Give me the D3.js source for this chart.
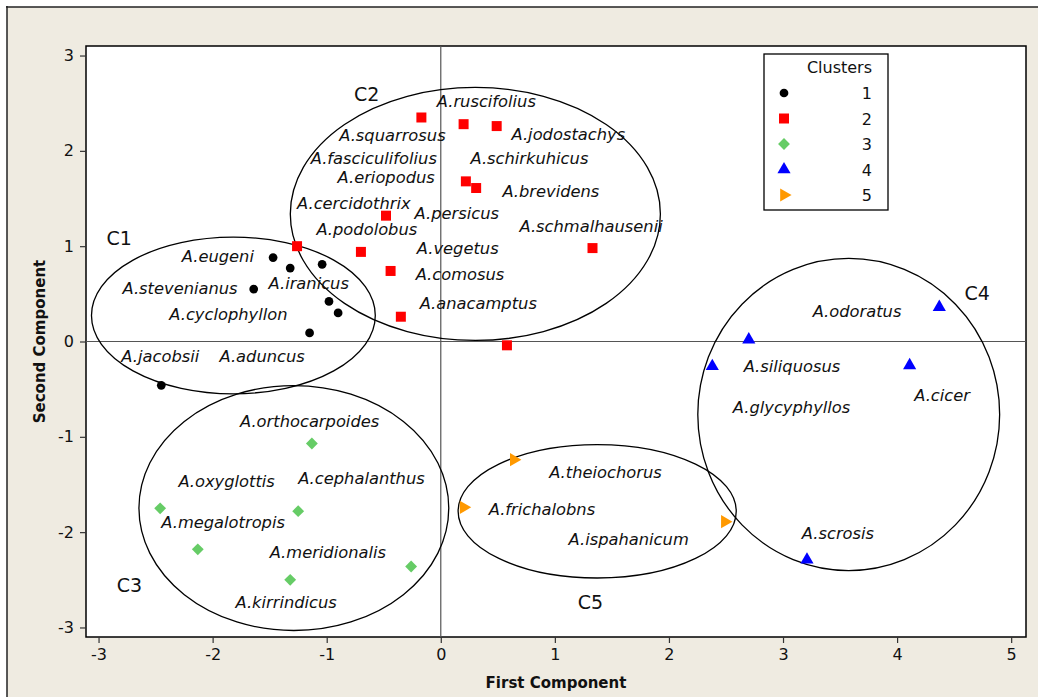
<!DOCTYPE html>
<html>
<head>
<meta charset="utf-8">
<script src="https://cdn.jsdelivr.net/npm/d3@7/dist/d3.min.js"></script>
<style>
  html, body { margin: 0; padding: 0; background: #ffffff; }
  svg { display: block; }
</style>
</head>
<body>
<svg id="chart" width="1038" height="697"></svg>
<script>
// Cluster scores on the first two principal components
const clusterIds = [1, 2, 3, 4, 5];
const clusterColors = ["#000000", "#ff0000", "#66cc66", "#0000ff", "#ff9900"];

const cluster1Points = [
  [-1.47, 0.88], [-1.32, 0.77], [-1.04, 0.81], [-1.64, 0.55],
  [-0.98, 0.42], [-0.90, 0.30], [-1.15, 0.09], [-2.45, -0.46]
];
const cluster2Points = [
  [-0.17, 2.35], [0.20, 2.28], [0.49, 2.26], [0.22, 1.68], [0.31, 1.61],
  [-0.48, 1.32], [-1.26, 1.00], [-0.70, 0.94], [-0.44, 0.74], [-0.35, 0.26],
  [1.33, 0.98], [0.58, -0.04]
];
const cluster3Points = [
  [-1.13, -1.07], [-2.46, -1.75], [-1.25, -1.78], [-2.13, -2.18],
  [-0.26, -2.36], [-1.32, -2.50]
];
const cluster4Points = [
  [4.37, 0.36], [2.70, 0.02], [2.38, -0.26], [4.11, -0.25], [3.21, -2.29]
];
const cluster5Points = [
  [0.64, -1.24], [0.20, -1.74], [2.49, -1.89]
];

// Species names: [name, x, y] (left edge / baseline in component units)
const speciesLabels = [
  ["A.eugeni", -2.27, 0.83], ["A.stevenianus", -2.79, 0.50], ["A.iranicus", -1.51, 0.55],
  ["A.cyclophyllon", -2.38, 0.23], ["A.jacobsii", -2.80, -0.21], ["A.aduncus", -1.94, -0.21],
  ["A.ruscifolius", -0.035, 2.46], ["A.squarrosus", -0.89, 2.10], ["A.jodostachys", 0.62, 2.11],
  ["A.fasciculifolius", -1.14, 1.86], ["A.schirkuhicus", 0.26, 1.86], ["A.eriopodus", -0.905, 1.66],
  ["A.brevidens", 0.54, 1.52], ["A.cercidothrix", -1.26, 1.385], ["A.persicus", -0.23, 1.28],
  ["A.schmalhausenii", 0.69, 1.15], ["A.podolobus", -1.09, 1.12], ["A.vegetus", -0.21, 0.92],
  ["A.comosus", -0.22, 0.65], ["A.anacamptus", -0.185, 0.34],
  ["A.orthocarpoides", -1.76, -0.90], ["A.oxyglottis", -2.30, -1.53], ["A.cephalanthus", -1.25, -1.49],
  ["A.megalotropis", -2.45, -1.96], ["A.meridionalis", -1.50, -2.27], ["A.kirrindicus", -1.80, -2.80],
  ["A.theiochorus", 0.95, -1.43], ["A.frichalobns", 0.42, -1.815], ["A.ispahanicum", 1.12, -2.13],
  ["A.odoratus", 3.26, 0.255], ["A.siliquosus", 2.655, -0.325], ["A.cicer", 4.15, -0.62],
  ["A.glycyphyllos", 2.56, -0.75], ["A.scrosis", 3.165, -2.075]
];

// Cluster outlines: [cx, cy, rx, ry] in component units
const clusterEllipses = [
  [-1.818, 0.273, 1.244, 0.822],
  [0.303, 1.338, 1.622, 1.327],
  [-1.288, -1.747, 1.358, 1.285],
  [3.576, -0.766, 1.323, 1.637],
  [1.371, -1.781, 1.219, 0.700]
];
const clusterNames = [
  ["C1", -2.93, 1.01], ["C2", -0.76, 2.52], ["C3", -2.84, -2.63],
  ["C4", 4.59, 0.44], ["C5", 1.20, -2.81]
];

const xTicks = [-3, -2, -1, 0, 1, 2, 3, 4, 5];
const yTicks = [-3, -2, -1, 0, 1, 2, 3];

const svg = d3.select("#chart");
const W = 1038, H = 697;
const plot = { left: 86, top: 46, right: 1026, bottom: 637 };

// page background and outer frame
svg.append("rect").attr("x", 7).attr("y", 7).attr("width", W - 7).attr("height", H - 7)
  .attr("fill", "#efebe1");
svg.append("line").attr("x1", 6).attr("x2", W).attr("y1", 7).attr("y2", 7)
  .attr("stroke", "#222").attr("stroke-width", 1.5);
svg.append("line").attr("x1", 7).attr("x2", 7).attr("y1", 6).attr("y2", H)
  .attr("stroke", "#222").attr("stroke-width", 1.5);

const x = d3.scaleLinear().domain([-3.11, 5.13]).range([plot.left, plot.right]);
const y = d3.scaleLinear().domain([-3.1, 3.1]).range([plot.bottom, plot.top]);

// plot area
svg.append("rect")
  .attr("x", plot.left).attr("y", plot.top)
  .attr("width", plot.right - plot.left).attr("height", plot.bottom - plot.top)
  .attr("fill", "#ffffff").attr("stroke", "#000").attr("stroke-width", 1.5);

const tickFont = "'DejaVu Sans', Verdana, sans-serif";
const plainInt = d => String(d);  // hyphen-minus, as in the original axis labels

// axes
const xAxis = d3.axisBottom(x).tickValues(xTicks).tickSize(6).tickPadding(6)
  .tickFormat(plainInt);
const gx = svg.append("g").attr("transform", `translate(0,${plot.bottom})`).call(xAxis);
gx.select(".domain").remove();
gx.selectAll("text").attr("font-family", tickFont).attr("font-size", 16).attr("fill", "#111");
gx.selectAll("line").attr("stroke", "#333").attr("stroke-width", 1.2);

const yAxis = d3.axisLeft(y).tickValues(yTicks).tickSize(6).tickPadding(6)
  .tickFormat(plainInt);
const gy = svg.append("g").attr("transform", `translate(${plot.left},0)`).call(yAxis);
gy.select(".domain").remove();
gy.selectAll("text").attr("font-family", tickFont).attr("font-size", 16).attr("fill", "#111");
gy.selectAll("line").attr("stroke", "#333").attr("stroke-width", 1.2);

// axis titles
svg.append("text").attr("x", (x(-3.11) + x(5.13)) / 2).attr("y", 688)
  .attr("text-anchor", "middle").attr("font-family", tickFont).attr("font-weight", "bold")
  .attr("font-size", 15).attr("fill", "#111").text("First Component");
svg.append("text")
  .attr("transform", `translate(45,${y(0)}) rotate(-90)`)
  .attr("text-anchor", "middle").attr("font-family", tickFont).attr("font-weight", "bold")
  .attr("font-size", 15).attr("fill", "#111").text("Second Component");

// reference lines through the origin
svg.append("line").attr("x1", x(0)).attr("x2", x(0)).attr("y1", plot.top).attr("y2", plot.bottom)
  .attr("stroke", "#555").attr("stroke-width", 1.2);
svg.append("line").attr("x1", plot.left).attr("x2", plot.right).attr("y1", y(0)).attr("y2", y(0))
  .attr("stroke", "#555").attr("stroke-width", 1.2);

// cluster ellipses
const kx = x(1) - x(0), ky = y(0) - y(1);
svg.append("g").selectAll("ellipse").data(clusterEllipses).join("ellipse")
  .attr("cx", d => x(d[0])).attr("cy", d => y(d[1]))
  .attr("rx", d => d[2] * kx).attr("ry", d => d[3] * ky)
  .attr("fill", "none").attr("stroke", "#000").attr("stroke-width", 1.3);

// marker shapes: circle, square, diamond (rotated square), triangle up, triangle right
const symbolPaths = [
  d3.symbol().type(d3.symbolCircle).size(60)(),
  d3.symbol().type(d3.symbolSquare).size(100)(),
  d3.symbol().type(d3.symbolSquare).size(70)(),
  d3.symbol().type(d3.symbolTriangle).size(75)(),
  d3.symbol().type(d3.symbolTriangle).size(75)()
];
const symbolRotate = [0, 0, 45, 0, 90];

const allClusters = [cluster1Points, cluster2Points, cluster3Points, cluster4Points, cluster5Points];
allClusters.forEach((pts, i) => {
  svg.append("g").selectAll("path").data(pts).join("path")
    .attr("d", symbolPaths[i])
    .attr("transform", d => `translate(${x(d[0])},${y(d[1])}) rotate(${symbolRotate[i]})`)
    .attr("fill", clusterColors[i]);
});

// species labels
svg.append("g").selectAll("text").data(speciesLabels).join("text")
  .attr("x", d => x(d[1])).attr("y", d => y(d[2]))
  .attr("font-family", tickFont).attr("font-style", "italic").attr("font-size", 16.3)
  .attr("fill", "#111").text(d => d[0]);

// cluster names
svg.append("g").selectAll("text").data(clusterNames).join("text")
  .attr("x", d => x(d[1])).attr("y", d => y(d[2]))
  .attr("font-family", tickFont).attr("font-size", 19)
  .attr("fill", "#111").text(d => d[0]);

// legend
const lg = svg.append("g");
lg.append("rect").attr("x", 764).attr("y", 54).attr("width", 124).attr("height", 156)
  .attr("fill", "#fff").attr("stroke", "#000").attr("stroke-width", 1.3);
lg.append("text").attr("x", 872).attr("y", 73).attr("text-anchor", "end")
  .attr("font-family", tickFont).attr("font-size", 16).attr("fill", "#111").text("Clusters");
clusterIds.forEach((id, i) => {
  const cy = 93 + i * 25.5;
  lg.append("path").attr("d", symbolPaths[i])
    .attr("transform", `translate(784,${cy}) rotate(${symbolRotate[i]})`)
    .attr("fill", clusterColors[i]);
  lg.append("text").attr("x", 872).attr("y", cy + 6).attr("text-anchor", "end")
    .attr("font-family", tickFont).attr("font-size", 16).attr("fill", "#111").text(id);
});
</script>
</body>
</html>
